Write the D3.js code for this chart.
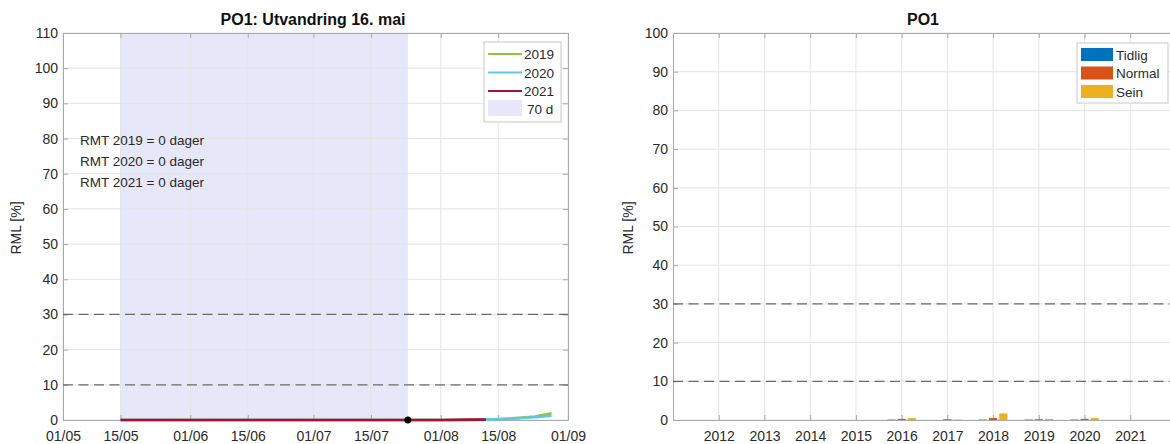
<!DOCTYPE html>
<html lang="en">
<head>
<meta charset="UTF-8">
<title>PO1</title>
<style>
  body { margin: 0; background: #fff; }
  svg text { font-family: "Liberation Sans", Arial, sans-serif; fill: #2a2a2a; }
  .title { font-weight: bold; font-size: 16px; fill: #111; }
  .tick text { font-size: 14px; }
</style>
</head>
<body>
<svg id="chart" width="1170" height="444"></svg>
<script src="https://cdnjs.cloudflare.com/ajax/libs/d3/7.9.0/d3.min.js"></script>
<script>
// ---- left panel: RML over the season ----
const tickDates = ["05-01", "05-15", "06-01", "06-15", "07-01", "07-15", "08-01", "08-15", "09-01"];
const lineDates = ["05-15", "06-01", "06-15", "07-01", "07-15", "08-01", "08-08", "08-12", "08-16", "08-20", "08-24", "08-28"];
const rml2019 = [0, 0, 0, 0, 0, 0, 0, 0.1, 0.3, 0.6, 1.0, 1.9];
const rml2020 = [0, 0, 0, 0, 0, 0, 0, 0.1, 0.3, 0.5, 0.8, 1.2];
const rml2021 = [0, 0, 0, 0, 0, 0, 0.1, 0.1, null, null, null, null];
const seasonYears = ["2019", "2020", "2021"];
const rmtDays = [0, 0, 0];
const shadeStart = "05-15";
const shadeDays = 70;
const thresholds = [10, 30];

// ---- right panel: RML per year ----
const years = [2012, 2013, 2014, 2015, 2016, 2017, 2018, 2019, 2020, 2021];
const tidlig = [0, 0, 0, 0, 0.1, 0, 0.1, 0.1, 0.1, 0];
const normal = [0, 0, 0, 0, 0.3, 0.2, 0.5, 0.2, 0.3, 0];
const sein = [0, 0, 0, 0, 0.5, 0.1, 1.7, 0.3, 0.5, 0];
const classes = ["Tidlig", "Normal", "Sein"];

const lineColors = ["#8cc63f", "#5cc8ee", "#a2142f"];
const barColors = ["#0072bd", "#d95319", "#edb120"];
const shadeColor = "#e7e7fa";
const axisColor = "#a8a8a8";
const gridColor = "#e4e4e4";

const svg = d3.select("#chart");
const parse = s => d3.timeParse("%Y-%m-%d")("2021-" + s);

// draws grid, box, ticks on all sides (matlab style)
function frame(g, x, y, xTicks, yTicks, xFmt) {
  const [x0, x1] = x.range();
  const [y1, y0] = y.range();
  g.append("g").selectAll("line").data(xTicks).join("line")
    .attr("x1", d => x(d)).attr("x2", d => x(d)).attr("y1", y0).attr("y2", y1)
    .attr("stroke", gridColor);
  g.append("g").selectAll("line").data(yTicks).join("line")
    .attr("x1", x0).attr("x2", x1).attr("y1", d => y(d)).attr("y2", d => y(d))
    .attr("stroke", gridColor);

  const ax = [
    [d3.axisBottom(x).tickValues(xTicks).tickFormat(xFmt).tickSizeInner(-5).tickPadding(11), `translate(0,${y1})`, true],
    [d3.axisTop(x).tickValues(xTicks).tickSizeInner(-5), `translate(0,${y0})`, false],
    [d3.axisLeft(y).tickValues(yTicks).tickSizeInner(-5).tickPadding(5), `translate(${x0},0)`, true],
    [d3.axisRight(y).tickValues(yTicks).tickSizeInner(-5), `translate(${x1},0)`, false]
  ];
  ax.forEach(([a, t, lab]) => {
    const s = g.append("g").attr("transform", t).call(a.tickSizeOuter(0));
    s.select(".domain").attr("stroke", axisColor);
    s.selectAll(".tick line").attr("stroke", axisColor);
    if (!lab) s.selectAll(".tick text").remove();
    s.selectAll(".tick text").attr("fill", "#2a2a2a");
  });
}

function ylabel(g, xpos, ypos) {
  g.append("text").attr("transform", `translate(${xpos},${ypos}) rotate(-90)`)
    .attr("text-anchor", "middle").style("font-size", "14px").text("RML [%]");
}

// ===== left =====
{
  const x = d3.scaleTime().domain([parse("05-01"), parse("09-01")]).range([63, 568]);
  const y = d3.scaleLinear().domain([0, 110]).range([420, 33]);
  const g = svg.append("g");
  const sStart = parse(shadeStart);
  const sEnd = d3.timeDay.offset(sStart, shadeDays);

  g.append("rect").attr("x", x(sStart)).attr("y", y(110))
    .attr("width", x(sEnd) - x(sStart)).attr("height", y(0) - y(110))
    .attr("fill", shadeColor);

  frame(g, x, y, tickDates.map(parse), d3.range(0, 111, 10), d3.timeFormat("%d/%m"));

  thresholds.forEach(t => g.append("line")
    .attr("x1", x.range()[0]).attr("x2", x.range()[1]).attr("y1", y(t)).attr("y2", y(t))
    .attr("stroke", "#6a6a6a").attr("stroke-width", 1.3).attr("stroke-dasharray", "10,5.5"));

  const line = d3.line().defined(d => d[1] !== null).x(d => x(parse(d[0]))).y(d => y(d[1]));
  [rml2019, rml2020, rml2021].forEach((vals, i) => {
    g.append("path").datum(lineDates.map((d, j) => [d, vals[j]]))
      .attr("d", line).attr("fill", "none")
      .attr("stroke", lineColors[i]).attr("stroke-width", 2.6);
  });

  g.append("circle").attr("cx", x(sEnd)).attr("cy", y(0)).attr("r", 3.5).attr("fill", "#000");

  seasonYears.forEach((yr, i) => g.append("text").attr("x", 80).attr("y", 145 + i * 21)
    .style("font-size", "13.5px").text(`RMT ${yr} = ${rmtDays[i]} dager`));

  // legend
  const lg = g.append("g").attr("transform", "translate(484,42)");
  lg.append("rect").attr("width", 77).attr("height", 80).attr("fill", "#fff").attr("stroke", "#c8c8c8");
  seasonYears.forEach((yr, i) => {
    lg.append("line").attr("x1", 4).attr("x2", 38).attr("y1", 12 + i * 18.5).attr("y2", 12 + i * 18.5)
      .attr("stroke", lineColors[i]).attr("stroke-width", 2);
    lg.append("text").attr("x", 40).attr("y", 17 + i * 18.5).style("font-size", "13.5px").text(yr);
  });
  lg.append("rect").attr("x", 4).attr("y", 58).attr("width", 34).attr("height", 16).attr("fill", shadeColor);
  lg.append("text").attr("x", 43).attr("y", 71.5).style("font-size", "13.5px").text(`${shadeDays} d`);

  g.append("text").attr("class", "title").attr("x", 313).attr("y", 25).attr("text-anchor", "middle")
    .text("PO1: Utvandring 16. mai");
  ylabel(g, 21, 228);
}

// ===== right =====
{
  const x = d3.scaleLinear().domain([2011, 2022]).range([673, 1176]);
  const y = d3.scaleLinear().domain([0, 100]).range([420, 33]);
  const g = svg.append("g");

  frame(g, x, y, years, d3.range(0, 101, 10), d3.format("d"));

  thresholds.forEach(t => g.append("line")
    .attr("x1", x.range()[0]).attr("x2", x.range()[1]).attr("y1", y(t)).attr("y2", y(t))
    .attr("stroke", "#6a6a6a").attr("stroke-width", 1.3).attr("stroke-dasharray", "10,5.5"));

  const step = (2 / 3) / classes.length;
  const bw = step * 0.8;
  [tidlig, normal, sein].forEach((vals, k) => {
    g.append("g").selectAll("rect").data(years.map((yr, j) => [yr, vals[j]])).join("rect")
      .attr("x", d => x(d[0] + (k - 1) * step - bw / 2))
      .attr("width", x(2011 + bw) - x(2011))
      .attr("y", d => y(d[1]))
      .attr("height", d => y(0) - y(d[1]))
      .attr("fill", barColors[k]);
  });

  const lg = g.append("g").attr("transform", "translate(1077,43)");
  lg.append("rect").attr("width", 91).attr("height", 60).attr("fill", "#fff").attr("stroke", "#c8c8c8");
  classes.forEach((c, i) => {
    lg.append("rect").attr("x", 4).attr("y", 5 + i * 18.5).attr("width", 32).attr("height", 13)
      .attr("fill", barColors[i]);
    lg.append("text").attr("x", 39).attr("y", 16.5 + i * 18.5).style("font-size", "13.5px").text(c);
  });

  g.append("text").attr("class", "title").attr("x", 923).attr("y", 25).attr("text-anchor", "middle").text("PO1");
  ylabel(g, 633, 228);
}
</script>
</body>
</html>
